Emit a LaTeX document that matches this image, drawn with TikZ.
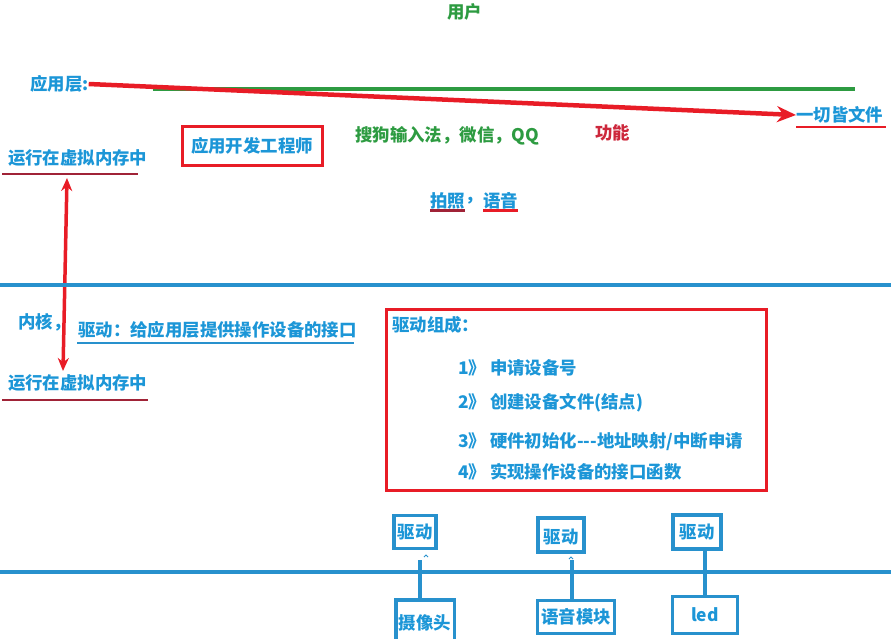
\documentclass[tikz,border=0pt]{standalone}
\usepackage{fontspec}
\newfontfamily\cjk{Noto Sans CJK SC}
\usepackage{xcolor}
\usetikzlibrary{positioning, arrows.meta}

\definecolor{txtblue}{RGB}{28,150,215}
\definecolor{lineblue}{RGB}{40,145,205}
\definecolor{penred}{RGB}{232,28,38}
\definecolor{darkred}{RGB}{160,35,55}
\definecolor{usrgreen}{RGB}{45,155,65}
\definecolor{funcred}{RGB}{205,40,60}

\begin{document}
\begin{tikzpicture}[
    x=1pt, y=-1pt,
    txt/.style={font=\cjk\bfseries\fontsize{17.4}{20}\selectfont, text=txtblue, inner sep=0pt, anchor=west},
    greentxt/.style={txt, text=usrgreen},
    redbox/.style={draw=penred, line width=3pt},
    devbox/.style={txt, anchor=center, draw=lineblue, line width=3.2pt, inner sep=3pt},
    redarrow/.style={-{Stealth[length=19pt, width=16pt]}, draw=penred, line width=4.5pt},
    dblarrow/.style={{Stealth[length=13pt, width=11pt]}-{Stealth[length=13pt, width=11pt]}, draw=penred, line width=3.5pt},
    layer/.style={draw=lineblue, line width=3.2pt},
    uline/.style={draw=darkred, line width=2.2pt},
    caret/.style={draw=lineblue, line width=1pt}
]
\useasboundingbox (0,0) rectangle (891,638);

% Application layer
\node[greentxt] (user) at (447,12) {用户};
\node[txt] (app) at (30,84) {应用层:};
\draw[draw=usrgreen, line width=3.2pt] (153,89) -- (855,89);
\node[txt] (allfile) at (796,115) {一切皆文件};
\node[txt, anchor=center, redbox, minimum width=140, minimum height=39] (appdev) at (252,146) {应用开发工程师};
\node[greentxt] (apps) at (355,136) {搜狗输入法，微信，QQ};
\node[txt, text=funcred] (func) at (595,133) {功能};
\node[txt] (vmtop) at (8,158) {运行在虚拟内存中};
\node[txt] (photo) at (430,201) {拍照};
\node[txt, right=0pt of photo] (comma) {，};
\node[txt, right=0pt of comma] (voice) {语音};

% Underlines
\draw[draw=penred, line width=2.2pt] ([yshift=-3pt]allfile.south west) -- ([xshift=3pt, yshift=-3pt]allfile.south east);
\draw[uline] ([xshift=-6pt, yshift=-7pt]vmtop.south west) -- ([xshift=-10pt, yshift=-7pt]vmtop.south east);
\draw[uline] ([yshift=-1pt]photo.south west) -- ([yshift=-1pt]photo.south east);
\draw[draw=penred, line width=2.2pt] ([yshift=-1pt]voice.south west) -- ([yshift=-1pt]voice.south east);

% Arrows
\coordinate (memtop) at (67,178);
\coordinate (membot) at (63,371);
\draw[redarrow] (app.east) -- (allfile.west);
\draw[dblarrow] (memtop) -- (membot);

% Kernel
\draw[layer] (0,285) -- (891,285);
\node[txt] (kernel) at (18,322) {内核，};
\node[txt] (drvdesc) at (78,330) {驱动：给应用层提供操作设备的接口};
\draw[draw=lineblue, line width=2.2pt] ([xshift=-1pt, yshift=-4pt]drvdesc.south west) -- ([xshift=-3pt, yshift=-4pt]drvdesc.south east);
\node[txt] (vmbot) at (8,383) {运行在虚拟内存中};
\draw[uline] ([xshift=-6pt, yshift=-8pt]vmbot.south west) -- ([yshift=-8pt]vmbot.south east);

% Driver parts
\node[redbox, minimum width=380, minimum height=181, anchor=north west] (parts) at (385,308) {};
\node[txt] (title) at (392,325) {驱动组成：};
\node[txt] (step1) at (458,368) {1》 申请设备号};
\node[txt] (step2) at (458,403) {2》 创建设备文件(结点)};
\node[txt] (step3) at (458,442) {3》 硬件初始化---地址映射/中断申请};
\node[txt] (step4) at (458,472) {4》 实现操作设备的接口函数};

% Hardware
\draw[layer] (0,572) -- (891,572);
\node[devbox, minimum width=42, minimum height=33] (drv1) at (415,532) {驱动};
\node[devbox, minimum width=46, minimum height=34, text height=16pt, text depth=0pt] (drv2) at (561,535) {驱动};
\node[devbox, minimum width=48, minimum height=34] (drv3) at (697,532) {驱动};
\node[devbox, minimum width=54, minimum height=46] (cam) at (425,623) {摄像头};
\node[devbox, minimum width=77, minimum height=33] (voicemod) at (576,617) {语音模块};
\node[devbox, minimum width=65, minimum height=37] (led) at (705,615) {led};

\draw[layer] ([xshift=5pt, yshift=-10pt]drv1.south) -- ([xshift=5pt]drv1.south |- cam.north);
\draw[layer] ([xshift=-4pt]voicemod.north) -- ([xshift=-4pt, yshift=-6pt]voicemod.north |- drv2.south);
\draw[layer] (led.north) -- (led.north |- drv3.south);
\draw[caret] (424,557) -- (426,555) -- (428,557);
\draw[caret] (569,559) -- (571,557) -- (573,559);

\end{tikzpicture}
\end{document}
